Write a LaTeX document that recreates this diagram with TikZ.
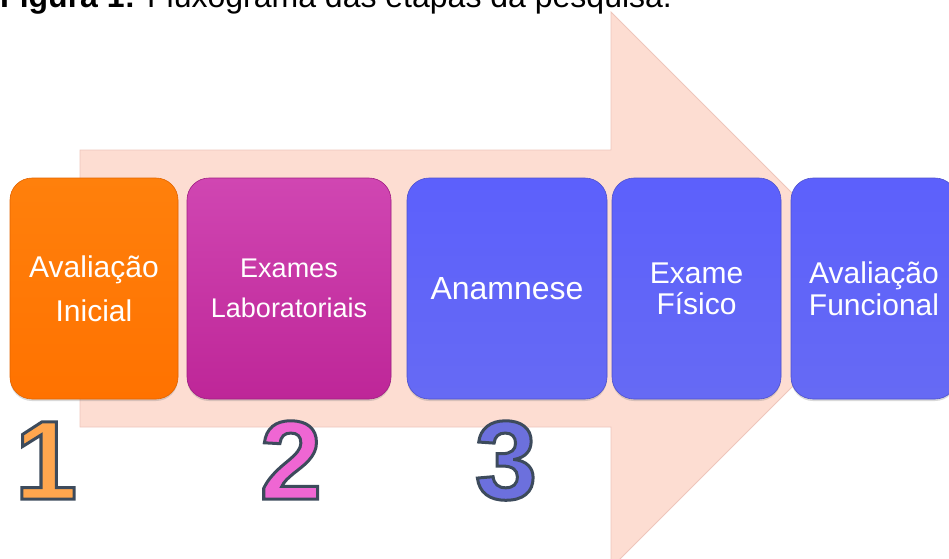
\documentclass[tikz,border=0pt]{standalone}
\usepackage{fontspec}
\setmainfont{Liberation Sans}
\usepackage{tikz}
\usetikzlibrary{shadows}
\definecolor{arrowfill}{RGB}{253,221,210}
\definecolor{arrowline}{RGB}{238,198,188}
\definecolor{orangetop}{RGB}{255,128,12}
\definecolor{orangebot}{RGB}{255,114,0}
\definecolor{orangeline}{RGB}{226,100,0}
\definecolor{magentatop}{RGB}{208,70,178}
\definecolor{magentabot}{RGB}{190,38,152}
\definecolor{magentaline}{RGB}{160,30,130}
\definecolor{bluetop}{RGB}{92,96,252}
\definecolor{bluebot}{RGB}{102,106,244}
\definecolor{blueline}{RGB}{78,82,205}
\definecolor{digitone}{RGB}{255,166,78}
\definecolor{digittwo}{RGB}{239,102,211}
\definecolor{digitthree}{RGB}{108,112,221}
\newcommand{\outlined}[2]{\textcolor{#1}{\special{pdf:code 2 Tr 3 w 0.239 0.294 0.361 RG}#2\special{pdf:code 0 Tr}}}

\begin{document}
\begin{tikzpicture}[x=1pt,y=-1pt,
  stage/.style={shape=rectangle,rounded corners=22pt,minimum height=221pt,align=center,text=white,line width=0.6pt,
    drop shadow={opacity=0.3,shadow xshift=0pt,shadow yshift=-2pt}},
  digit/.style={anchor=base,inner sep=0pt,font=\fontsize{112}{112}\selectfont\bfseries}]
\useasboundingbox (0,0) rectangle (949,558);
\node[anchor=base west,inner sep=0pt,font=\fontsize{32}{32}\selectfont] (title) at (0,7) {\textbf{Figura 1:} Fluxograma das etapas da pesquisa.};
\fill[arrowfill,draw=arrowline,line width=0.8pt] (80,150) -- (611,150) -- (611,12) -- (889,290) -- (611,568) -- (611,427) -- (80,427) -- cycle;
\node[stage,minimum width=168pt,top color=orangetop,bottom color=orangebot,draw=orangeline,font=\fontsize{30}{44}\selectfont] (A) at (94,288.5) {Avaliação\\Inicial};
\node[stage,minimum width=204pt,top color=magentatop,bottom color=magentabot,draw=magentaline,font=\fontsize{27}{40}\selectfont] (B) at (289,288.5) {Exames\\Laboratoriais};
\node[stage,minimum width=200pt,top color=bluetop,bottom color=bluebot,draw=blueline,font=\fontsize{32}{32}\selectfont] (C) at (507,288.5) {Anamnese};
\node[stage,minimum width=169pt,top color=bluetop,bottom color=bluebot,draw=blueline,font=\fontsize{30}{31}\selectfont] (D) at (696.5,288.5) {Exame\\Físico};
\node[stage,minimum width=166pt,top color=bluetop,bottom color=bluebot,draw=blueline,font=\fontsize{30}{32}\selectfont] (E) at (874,288.5) {Avaliação\\Funcional};
\node[digit] (n1) at (46,499) {\outlined{digitone}{1}};
\node[digit] (n2) at (291,499) {\outlined{digittwo}{2}};
\node[digit] (n3) at (506,499) {\outlined{digitthree}{3}};
\end{tikzpicture}
\end{document}
